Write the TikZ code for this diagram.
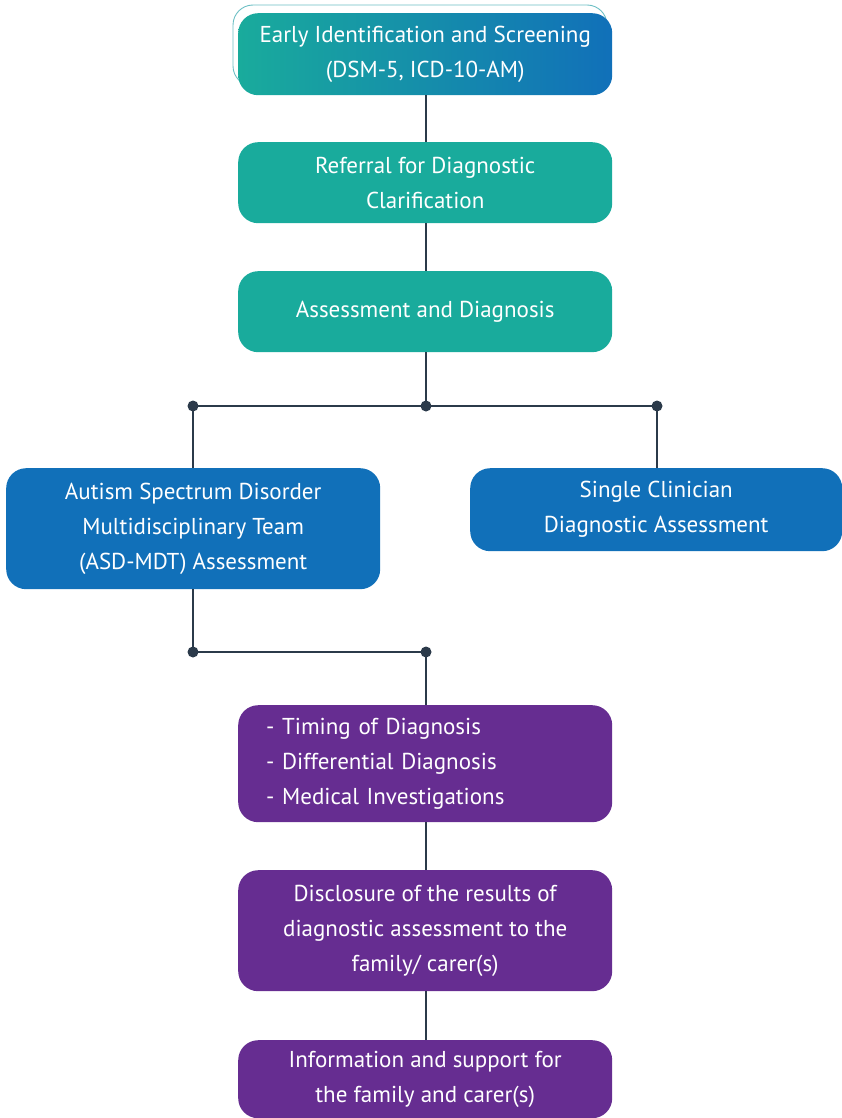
\documentclass[tikz,border=0pt]{standalone}
\usepackage{fontspec}
\setmainfont{PT Sans}
\definecolor{tealc}{HTML}{19AB9C}
\definecolor{bluec}{HTML}{1170B9}
\definecolor{purpc}{HTML}{662D91}
\definecolor{linec}{HTML}{2B3A4A}
\definecolor{outc}{HTML}{6CBFC4}
\begin{document}
\begin{tikzpicture}[x=1pt,y=-1pt,
  box/.style={rounded corners=20pt, minimum width=374pt, text=white, align=center,
    font=\fontsize{23}{35}\selectfont, inner sep=0pt, anchor=north west},
  tealbox/.style={box, fill=tealc},
  bluebox/.style={box, fill=bluec},
  purpbox/.style={box, fill=purpc},
  conn/.style={draw=linec, line width=1.3pt},
  dot/.style={fill=linec}]
\useasboundingbox (0,0) rectangle (842,1118);
\clip (0,0) rectangle (842,1118);
% top outline
\draw[outc, line width=0.9pt, rounded corners=20pt] (233,5) rectangle (607,86);
\node[box, left color=tealc, right color=bluec, minimum height=82pt] (b1) at (238,13)
  {Early Identification and Screening\\(DSM-5, ICD-10-AM)};
\node[tealbox, minimum height=81pt] (b2) at (238,142) {Referral for Diagnostic\\Clarification};
\node[tealbox, minimum height=81pt] (b3) at (238,271) {Assessment and Diagnosis};
\node[bluebox, minimum height=121pt] (b4) at (6,468)
  {Autism Spectrum Disorder\\Multidisciplinary Team\\(ASD-MDT) Assessment};
\node[bluebox, minimum width=372pt, minimum height=83pt] (b5) at (470,468)
  {Single Clinician\\Diagnostic Assessment};
\node[purpbox, minimum height=117pt, text width=318pt, inner xsep=28pt, align=left] (b6) at (238,705)
  {- Timing of Diagnosis\\- Differential Diagnosis\\- Medical Investigations};
\node[purpbox, minimum height=121pt] (b7) at (238,870)
  {Disclosure of the results of\\diagnostic assessment to the\\family/ carer(s)};
\node[purpbox, minimum height=78pt] (b8) at (238,1040)
  {Information and support for\\the family and carer(s)};
% junctions
\coordinate (j1) at (426,406);
\coordinate (jl) at (193,406);
\coordinate (jr) at (657,406);
\coordinate (j2l) at (193,652);
\coordinate (j2r) at (426,652);
\draw[conn] (b1.south -| j1) -- (b2.north -| j1);
\draw[conn] (b2.south -| j1) -- (b3.north -| j1);
\draw[conn] (b3.south -| j1) -- (j1);
\draw[conn] (jl) -- (jr);
\draw[conn] (jl) -- (b4.north -| jl);
\draw[conn] (jr) -- (b5.north -| jr);
\draw[conn] (b4.south -| j2l) -- (j2l) -- (j2r) -- (b6.north -| j2r);
\draw[conn] (b6.south -| j2r) -- (b7.north -| j2r);
\draw[conn] (b7.south -| j2r) -- (b8.north -| j2r);
\foreach \p in {j1,jl,jr,j2l,j2r} \fill[dot] (\p) circle (5.5pt);
\end{tikzpicture}
\end{document}
